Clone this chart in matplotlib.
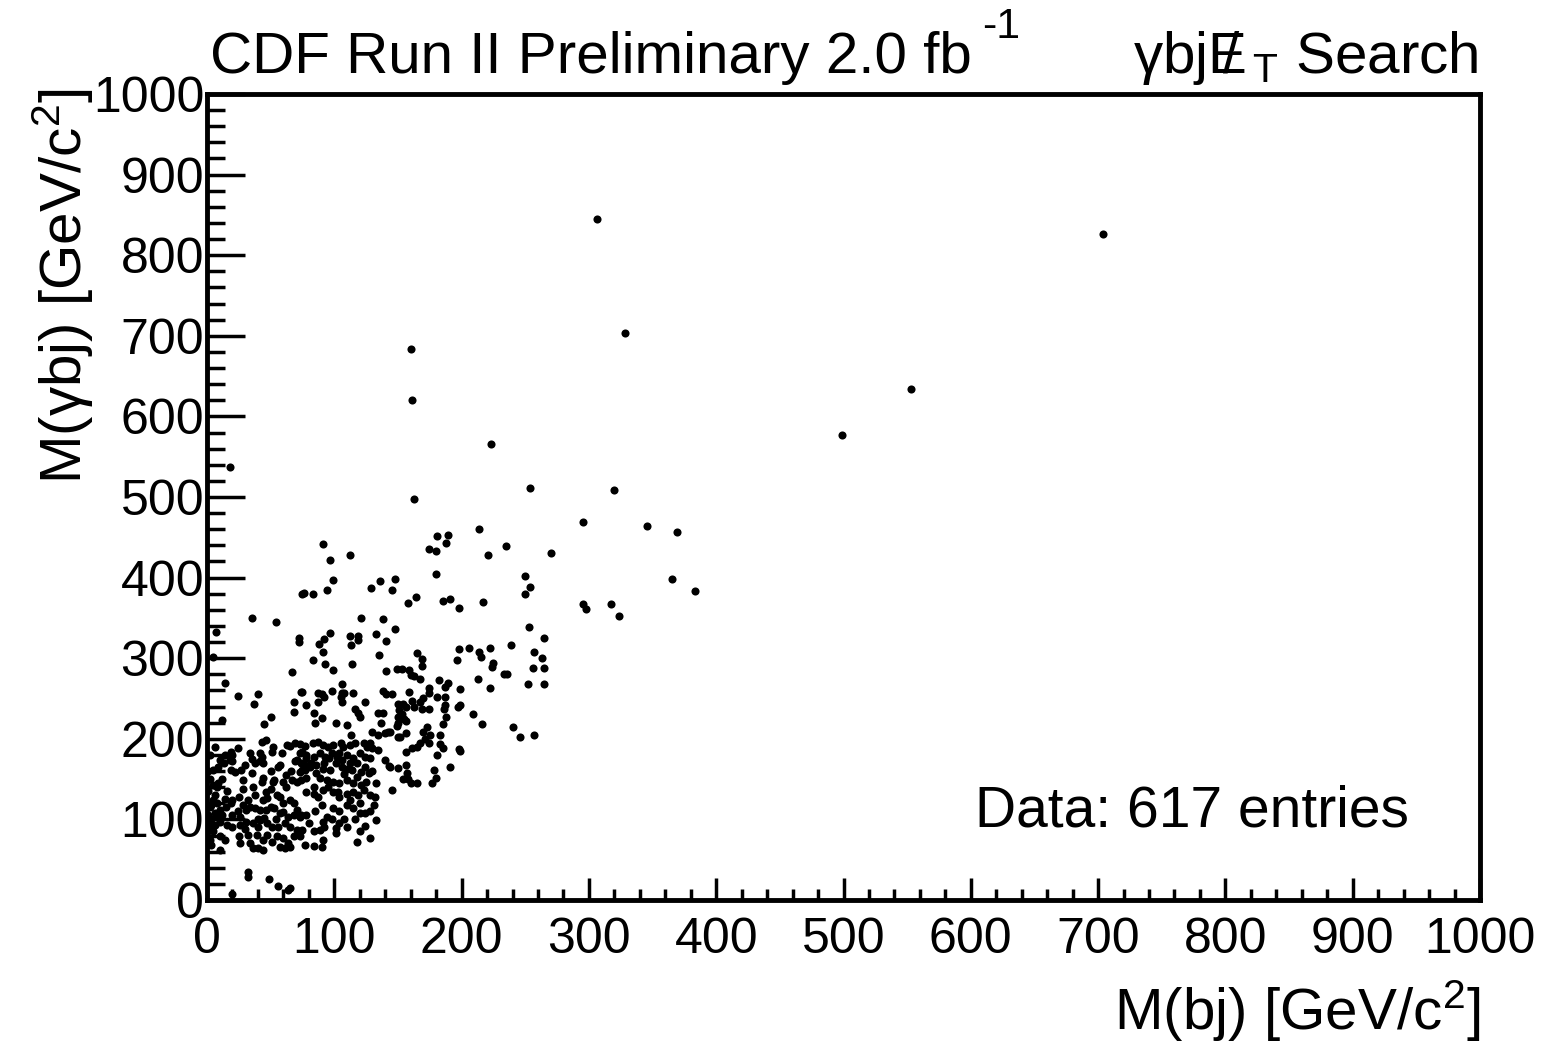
import numpy as np
import matplotlib
matplotlib.use("Agg")
import matplotlib.pyplot as plt
from matplotlib.ticker import MultipleLocator

plt.rcParams['font.family'] = ['Liberation Sans', 'DejaVu Sans']
plt.rcParams['mathtext.fontset'] = 'custom'
plt.rcParams['mathtext.rm'] = 'Liberation Sans'
plt.rcParams['mathtext.it'] = 'Liberation Sans:italic'
plt.rcParams['mathtext.bf'] = 'Liberation Sans:bold'

# (M(bj), M(gamma bj)) pairs in GeV/c^2
tail_pts = [
    (306, 845), (328, 703), (704, 826), (553, 634), (499, 577), (160, 684),
    (161, 620), (163, 497), (223, 566), (254, 511), (320, 509), (295, 469),
    (346, 464), (369, 457), (270, 431), (214, 460), (235, 439), (221, 428),
    (383, 383), (365, 398), (295, 367), (298, 361), (317, 367), (324, 352),
    (18, 537),
]

mid_right_pts = [
    (181, 452), (189, 453), (174, 435), (180, 433), (188, 443), (148, 398),
    (145, 385), (180, 404), (158, 368), (164, 376), (185, 371), (191, 373),
    (198, 362), (217, 370), (250, 402), (254, 388), (250, 380), (148, 336),
    (253, 339), (265, 325), (198, 311), (206, 313), (222, 313), (239, 316),
    (214, 308), (215, 301), (196, 298), (225, 294), (224, 289), (233, 280),
    (236, 280), (257, 308), (263, 300), (256, 288), (265, 288), (252, 268),
    (265, 268), (213, 274), (222, 263), (199, 262), (165, 306), (169, 299),
    (169, 290), (149, 287), (153, 287), (159, 285), (160, 279), (163, 278),
    (167, 274), (182, 273), (189, 269), (187, 264), (174, 263), (174, 257),
    (159, 258), (145, 256), (181, 252), (187, 252), (150, 243), (154, 243),
    (156, 239), (151, 236), (153, 231), (150, 227), (161, 247), (163, 239),
    (167, 246), (169, 237), (170, 251), (174, 237), (186, 237), (187, 242),
    (188, 227), (197, 239), (199, 242), (209, 231), (155, 225),
]

low_right_pts = [
    (150, 220), (149, 216), (156, 222), (216, 218), (185, 218), (240, 215),
    (246, 202), (257, 205), (144, 208), (156, 207), (150, 202), (152, 202),
    (173, 215), (170, 208), (175, 205), (171, 200), (174, 195), (183, 205),
    (167, 195), (165, 190), (161, 189), (156, 184), (183, 194), (185, 189),
    (198, 187), (199, 185), (181, 180), (144, 165), (150, 164), (156, 168),
    (157, 158), (178, 161), (191, 165), (154, 150), (158, 150), (160, 145),
    (165, 145), (180, 151), (177, 145), (145, 137),
]

mid_left_pts = [
    (91, 442), (97, 422), (112, 428), (99, 397), (94, 385), (75, 380),
    (76, 381), (83, 380), (129, 387), (136, 396), (35, 350), (54, 345),
    (7, 333), (121, 350), (138, 349), (72, 325), (72, 320), (92, 324),
    (97, 331), (88, 318), (91, 308), (112, 328), (119, 328), (119, 323),
    (113, 316), (133, 330), (141, 321), (135, 304), (5, 302), (83, 298),
    (93, 293), (99, 285), (114, 293), (141, 284), (67, 283), (14, 269),
    (106, 268), (24, 253), (40, 256), (37, 243), (74, 258), (75, 258),
    (87, 257), (90, 256), (92, 252), (98, 259), (106, 257), (108, 257),
    (105, 252), (106, 246), (115, 257), (124, 246), (138, 259), (141, 256),
    (68, 246), (78, 242), (87, 246), (68, 233), (84, 232), (90, 226),
    (50, 227), (116, 237), (119, 232), (120, 227), (134, 232), (138, 232),
    (12, 223), (45, 218), (113, 205), (130, 208), (134, 205), (140, 207),
    (85, 220), (101, 220), (110, 217), (137, 220),
]

core_left_pts = [
    (43, 196), (46, 199), (19, 184), (20, 180), (34, 183), (35, 175),
    (42, 182), (43, 178), (51, 184), (52, 190), (59, 182), (63, 192),
    (65, 191), (69, 195), (73, 194), (77, 191), (73, 182), (75, 184),
    (18, 174), (20, 172), (13, 170), (10, 174), (42, 172), (44, 170),
    (56, 165), (57, 168), (69, 172), (71, 174), (74, 170), (77, 168),
    (78, 176), (19, 161), (22, 159), (27, 161), (5, 161), (9, 165),
    (35, 158), (73, 159), (75, 161), (28, 149), (44, 151), (43, 147),
    (52, 147), (53, 149), (60, 147), (67, 149), (71, 147), (74, 149),
    (78, 151), (5, 143), (9, 145), (78, 134), (46, 134), (44, 124),
    (47, 127), (55, 130), (57, 128), (32, 124), (20, 124), (19, 120),
    (65, 124), (68, 120), (71, 112), (74, 105), (5, 124), (8, 120),
    (10, 112), (31, 112), (34, 116), (38, 114), (42, 112), (46, 112),
    (50, 116), (53, 114), (57, 108), (60, 109), (64, 103), (68, 105),
    (73, 103), (78, 105), (20, 105), (26, 103), (31, 97), (36, 96),
    (42, 99), (47, 96), (51, 91), (56, 91), (61, 96), (65, 91),
    (71, 87), (75, 87), (10, 97), (16, 93), (20, 91), (26, 93),
    (4, 91), (25, 79), (26, 71), (32, 81), (34, 71), (39, 81),
    (44, 74), (47, 81), (51, 72), (55, 79), (60, 77), (64, 71),
    (68, 79), (73, 79), (10, 79), (14, 74), (36, 65), (40, 65),
    (44, 62), (57, 66), (61, 65), (65, 66), (10, 62),
    (2, 150), (1, 135), (2, 115), (1, 105), (3, 100), (2, 95),
    (6, 108), (1, 85), (5, 85), (2, 75), (3, 68), (6, 130),
    (8, 103), (2, 180), (6, 190), (1, 160), (3, 118), (6, 93),
    (12, 105), (15, 115), (24, 110), (28, 118), (14, 125), (25, 128),
    (16, 135), (28, 138), (38, 130), (36, 140), (30, 88), (40, 90),
    (45, 102), (54, 100), (60, 120), (50, 138), (62, 140), (66, 160),
    (40, 100), (8, 140), (12, 150), (14, 180), (24, 188), (30, 168),
    (38, 170), (50, 160), (62, 155),
]

core_right_pts = [
    (78, 180), (84, 178), (89, 182), (93, 178), (98, 182), (102, 178),
    (106, 174), (110, 180), (115, 176), (120, 182), (124, 178), (128, 176),
    (77, 161), (81, 165), (86, 168), (91, 163), (97, 161), (101, 170),
    (106, 165), (110, 163), (114, 161), (118, 170), (121, 159), (127, 157),
    (89, 151), (94, 149), (99, 147), (104, 145), (110, 149), (115, 145),
    (121, 143), (125, 147), (133, 145),
    (84, 132), (87, 128), (91, 137), (99, 134), (103, 134), (110, 132),
    (115, 134), (119, 130), (123, 137), (128, 130), (132, 128),
    (90, 118), (99, 114), (104, 110), (110, 118), (115, 114), (120, 108),
    (124, 108), (128, 110), (131, 118), (94, 103), (98, 101), (133, 99),
    (91, 97), (101, 89), (104, 95), (110, 91), (120, 85), (84, 85), (89, 87),
    (77, 68), (84, 67), (90, 66), (91, 74), (101, 83), (118, 72), (128, 77),
    (83, 195), (87, 196), (91, 192), (95, 190), (99, 192), (105, 195),
    (107, 190), (112, 192), (116, 195), (123, 195), (126, 190), (128, 195),
    (130, 189), (134, 186), (140, 174), (143, 166), (142, 209),
    (82, 170), (86, 158), (92, 170), (96, 176), (104, 182), (108, 156),
    (112, 170), (118, 152), (124, 165), (130, 160), (84, 140), (95, 140),
    (104, 128), (112, 124), (120, 120), (85, 110), (80, 95), (92, 90),
    (108, 100), (116, 100), (124, 92),
]

bottom_pts = [(32, 35), (32, 29), (49, 26), (56, 17), (64, 12), (65, 15), (20, 7)]

n_entries = 617

pts = np.array(tail_pts + mid_right_pts + low_right_pts + mid_left_pts
               + core_left_pts + core_right_pts + bottom_pts, dtype=float)
m_bj = pts[:, 0]
m_gbj = pts[:, 1]

W, H = 1550, 1044
fig = plt.figure(figsize=(W / 100, H / 100), dpi=100)
ax = fig.add_axes([207 / W, 1 - 900 / H, (1480 - 207) / W, (900 - 94) / H])

ax.scatter(m_bj, m_gbj, s=34, c='black', linewidths=0, zorder=3)

ax.set_xlim(0, 1000)
ax.set_ylim(0, 1000)
ax.xaxis.set_major_locator(MultipleLocator(100))
ax.xaxis.set_minor_locator(MultipleLocator(20))
ax.yaxis.set_major_locator(MultipleLocator(100))
ax.yaxis.set_minor_locator(MultipleLocator(20))
ax.tick_params(which='both', direction='in', top=False, right=False, width=2.5)
ax.tick_params(axis='x', which='major', length=16, labelsize=36, pad=12)
ax.tick_params(axis='x', which='minor', length=8)
ax.tick_params(axis='y', which='major', length=27, labelsize=36, pad=2)
ax.tick_params(axis='y', which='minor', length=13)
for sp in ax.spines.values():
    sp.set_linewidth(3.5)

fig.text(210 / W, 1 - 73 / H, 'CDF Run II Preliminary 2.0 fb',
         ha='left', va='baseline', fontsize=42)
fig.text(982 / W, 1 - 38 / H, '-1', ha='left', va='baseline', fontsize=31)
fig.text(1478 / W, 1 - 73 / H,
         'γbj$\\mathrm{E}\\!\\!\\!/\\;{}_{\\mathrm{T}}$ Search',
         ha='right', va='baseline', fontsize=42)

fig.text(1480 / W, 1 - 1030 / H, 'M(bj) [GeV/c$^{2}$]',
         ha='right', va='baseline', fontsize=42)
fig.text(63 / W, 1 - 88 / H, 'M(γbj) [GeV/c$^{2}$]', rotation=90,
         ha='center', va='top', fontsize=42)

ax.text(0.603, 0.0906, f'Data: {n_entries} entries', transform=ax.transAxes,
        ha='left', va='baseline', fontsize=41)

fig.savefig('out.png', dpi=100)
